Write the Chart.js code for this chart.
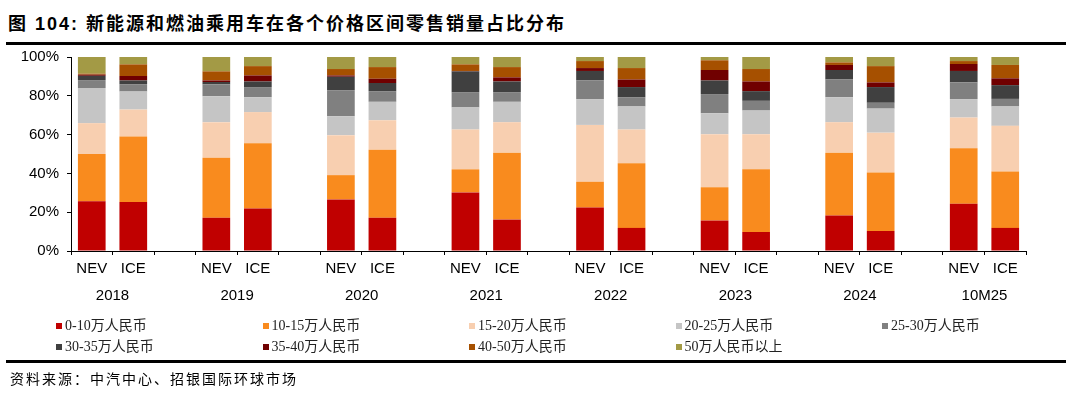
<!DOCTYPE html>
<html>
<head>
<meta charset="utf-8">
<script src="https://cdn.jsdelivr.net/npm/chart.js@4/dist/chart.umd.min.js"></script>
<style>
  body { margin: 0; background: #fff; }
  #wrap { position: relative; width: 1066px; height: 394px; overflow: hidden; }
  #title { position: absolute; left: 8px; top: 9px; font: bold 18px "Liberation Sans", "Noto Sans CJK SC", sans-serif; letter-spacing: 2px; color: #000; white-space: nowrap; }
  .rule { position: absolute; left: 6px; right: 0; height: 3px; background: #000; }
  #legend { position: absolute; left: 0; top: 316px; width: 1066px; height: 42px; }
  .item { position: absolute; font: 14px "Liberation Serif", "Noto Sans CJK SC", serif; color: #222; white-space: nowrap; line-height: 20px; }
  .item i { display: inline-block; width: 6px; height: 6px; margin-right: 3px; vertical-align: 1px; }
  #source { position: absolute; left: 10px; top: 368px; font: 14px "Noto Sans CJK SC", sans-serif; letter-spacing: 2px; color: #000; white-space: nowrap; }
  canvas { position: absolute; left: 0; top: 0; }
</style>
</head>
<body>
<div id="wrap">
  <div id="title">图 104: 新能源和燃油乘用车在各个价格区间零售销量占比分布</div>
  <div class="rule" style="top:42px"></div>
  <canvas id="chart" width="1066" height="394"></canvas>
  <div id="legend"></div>
  <div class="rule" style="top:360px"></div>
  <div id="source">资料来源：中汽中心、招银国际环球市场</div>
</div>
<script>
// categories: NEV / ICE per year, blank slot between years
const years = ['2018', '2019', '2020', '2021', '2022', '2023', '2024', '10M25'];
const kinds = ['NEV', 'ICE'];

// shares (%) per price band, order: NEV18, ICE18, NEV19, ICE19, ... NEV10M25, ICE10M25
const band0_10  = [25.7, 25.2, 17.2, 21.9, 26.6, 17.2, 30.2, 16.2, 22.4, 11.9, 15.7,  9.8, 18.3, 10.3, 24.3, 11.9];
const band10_15 = [24.3, 33.8, 30.9, 33.6, 12.5, 35.0, 11.9, 34.5, 13.3, 33.3, 17.1, 32.3, 32.4, 30.2, 28.6, 29.1];
const band15_20 = [15.9, 13.9, 18.3, 16.1, 20.6, 15.2, 20.5, 15.7, 29.3, 17.4, 27.4, 18.1, 15.7, 20.5, 15.9, 23.5];
const band20_25 = [18.1,  9.3, 13.4,  7.7,  9.8,  9.5, 11.4, 10.5, 13.3, 11.9, 10.8, 12.2, 12.9, 12.4,  9.5, 10.0];
const band25_30 = [ 4.1,  3.8,  6.1,  5.2, 13.4,  5.5,  7.9,  5.0,  9.6,  4.8,  9.9,  5.0,  9.1,  3.0,  8.6,  3.9];
const band30_35 = [ 2.2,  1.9,  1.2,  2.9,  6.9,  4.2, 10.7,  5.5,  4.9,  5.2,  7.0,  5.0,  4.9,  8.1,  5.9,  7.1];
const band35_40 = [ 0.6,  2.3,  0.8,  3.1,  0.7,  2.2,  0.2,  2.1,  1.5,  3.9,  5.4,  5.0,  2.6,  2.4,  3.6,  3.5];
const band40_50 = [ 0.5,  6.0,  4.7,  4.8,  3.3,  6.0,  3.4,  5.3,  3.6,  5.9,  5.0,  6.4,  1.3,  8.4,  1.5,  6.9];
const band50up  = [ 8.6,  3.8,  7.4,  4.7,  6.2,  5.2,  3.8,  5.2,  2.1,  5.7,  1.7,  6.2,  2.8,  4.7,  2.1,  4.1];

const seriesNames = ['0-10万人民币', '10-15万人民币', '15-20万人民币', '20-25万人民币', '25-30万人民币',
                     '30-35万人民币', '35-40万人民币', '40-50万人民币', '50万人民币以上'];
const seriesValues = [band0_10, band10_15, band15_20, band20_25, band25_30, band30_35, band35_40, band40_50, band50up];
const colors = ['#C00000', '#F98B1E', '#F8CFB0', '#C5C5C5', '#808080', '#404040', '#700000', '#A65000', '#A39A45'];

// build labels with a blank slot after each year (none after the last)
const labels = [];
years.forEach((y, i) => {
    labels.push(kinds[0], kinds[1]);
    if (i < years.length - 1) labels.push('');
});

// spread 16 values into 23 slots
function spread(vals) {
    const out = [];
    for (let i = 0; i < years.length; i++) {
        out.push(vals[2 * i], vals[2 * i + 1]);
        if (i < years.length - 1) out.push(null);
    }
    return out;
}

const datasets = seriesNames.map((name, k) => ({
    label: name,
    data: spread(seriesValues[k]),
    backgroundColor: colors[k],
    borderWidth: 0,
    barPercentage: 0.667,
    categoryPercentage: 1.0
}));

// year labels under each NEV/ICE pair
const yearLabels = {
    id: 'yearLabels',
    afterDraw(chart) {
        const x = chart.scales.x;
        const ctx = chart.ctx;
        ctx.save();
        ctx.font = '15px "Liberation Sans", Arial, sans-serif';
        ctx.fillStyle = '#000';
        ctx.textAlign = 'center';
        ctx.textBaseline = 'middle';
        years.forEach((y, i) => {
            const px = (x.getPixelForValue(3 * i) + x.getPixelForValue(3 * i + 1)) / 2;
            ctx.fillText(y, px, 296);
        });
        ctx.restore();
    }
};

new Chart(document.getElementById('chart').getContext('2d'), {
    type: 'bar',
    data: { labels: labels, datasets: datasets },
    options: {
        responsive: false,
        animation: false,
        layout: { padding: { top: 57, right: 40, bottom: 0, left: 0 } },
        plugins: { legend: { display: false }, tooltip: { enabled: false } },
        scales: {
            x: {
                stacked: true,
                afterFit: s => { s.height = 143; },
                border: { color: '#000', width: 1 },
                grid: { display: true, drawOnChartArea: false, drawTicks: true, tickLength: 4, color: '#000', offset: true },
                ticks: { autoSkip: false, maxRotation: 0, color: '#000', padding: 5,
                         font: { family: '"Liberation Sans", Arial, sans-serif', size: 15 } }
            },
            y: {
                stacked: true,
                min: 0, max: 100,
                afterFit: s => { s.width = 71; },
                border: { color: '#000', width: 1 },
                grid: { display: true, drawOnChartArea: false, drawTicks: true, tickLength: 4, color: '#000' },
                ticks: { stepSize: 20, color: '#000', padding: 8, callback: v => v + '%',
                         font: { family: '"Liberation Sans", Arial, sans-serif', size: 15 } }
            }
        }
    },
    plugins: [yearLabels]
});

// legend in two rows of five
const legend = document.getElementById('legend');
seriesNames.forEach((name, k) => {
    const el = document.createElement('div');
    el.className = 'item';
    el.style.left = (56 + (k % 5) * 206.5) + 'px';
    el.style.top = (Math.floor(k / 5) * 21) + 'px';
    el.innerHTML = '<i style="background:' + colors[k] + '"></i>' + name;
    legend.appendChild(el);
});
</script>
</body>
</html>
